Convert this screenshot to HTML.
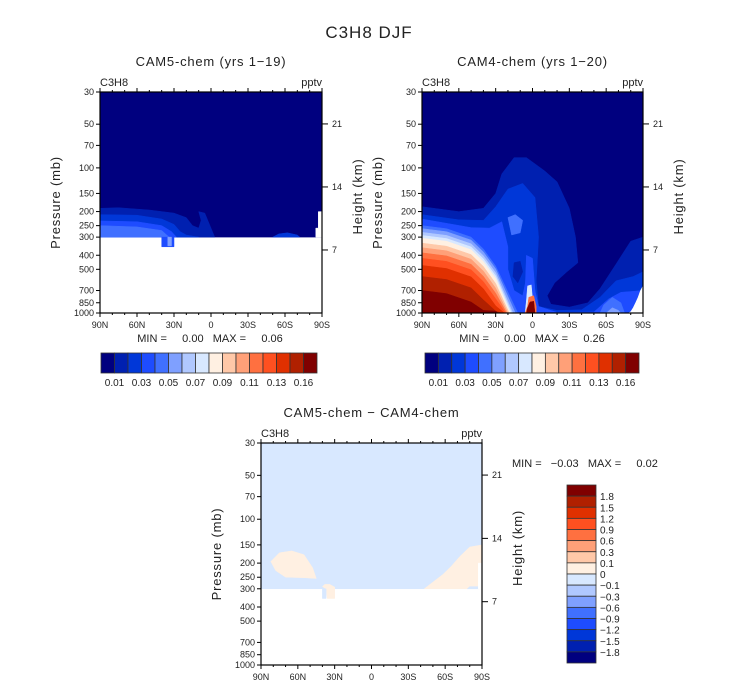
<!DOCTYPE html>
<html><head><meta charset="utf-8">
<style>
html,body{margin:0;padding:0;background:#fff;}
svg text{font-family:"Liberation Sans",sans-serif;fill:#222;white-space:pre;}
</style></head>
<body>
<svg id="chart" width="733" height="689" viewBox="0 0 733 689" xmlns="http://www.w3.org/2000/svg">
<text x="369" y="38" font-size="17" text-anchor="middle" fill="#333" letter-spacing="1">C3H8 DJF</text>
</svg>
<script>
const colors = ["#00007f","#0020b0","#0037d8","#1e4cff","#4070ff","#7fa0ff","#b0c8ff","#d8e8ff","#fff0e2","#ffc8a8","#ffa078","#ff7040","#ff5020","#e03000","#b02000","#800000"];
const cbLabels = ["0.01","0.03","0.05","0.07","0.09","0.11","0.13","0.16"];
const diffLabels = ["1.8","1.5","1.2","0.9","0.6","0.3","0.1","0","\u22120.1","\u22120.3","\u22120.6","\u22120.9","\u22121.2","\u22121.5","\u22121.8"];
const latTicks = [90,60,30,0,-30,-60,-90];
const latLabels = ["90N","60N","30N","0","30S","60S","90S"];
const pTicks = [30,50,70,100,150,200,250,300,400,500,700,850,1000];
const hTicks = [7,14,21];

const cam5Regions = [
 [0, [[90,30],[-90,30],[-90,300],[90,300]]],
 [1, [[90,190],[75,188],[50,195],[30,205],[20,220],[15,250],[10,260],[8,230],[10,200],[5,205],[0,260],[-3,300],[90,300]]],
 [2, [[90,210],[60,212],[40,225],[30,245],[25,275],[20,290],[10,300],[90,300]]],
 [3, [[90,232],[60,235],[40,250],[32,275],[28,300],[90,300]]],
 [4, [[90,250],[60,255],[40,270],[34,300],[90,300]]],
 [2, [[-50,300],[-55,285],[-62,280],[-70,290],[-72,300]]],
 [3, [[40,300],[30,300],[30,350],[40,350]]],
 [5, [[35,300],[32,300],[32,345],[35,345]]]
];
const cam5WhiteNotch = [[-87,200],[-90,200],[-90,300],[-85,300],[-85,260],[-87,260]];

const cam4Regions = [
 [0, [[90,30],[-90,30],[-90,1000],[90,1000]]],
 [1, [[90,185],[60,200],[40,190],[30,150],[25,110],[15,85],[5,85],[-10,105],[-20,125],[-30,190],[-35,300],[-37,450],[-28,520],[-18,620],[-12,760],[-15,870],[-30,910],[-45,850],[-55,680],[-68,460],[-80,320],[-90,300],[-90,1000],[90,1000]]],
 [2, [[90,210],[60,228],[40,230],[30,185],[20,140],[8,128],[-2,160],[-5,300],[-3,600],[-5,900],[-20,960],[-40,950],[-55,780],[-68,600],[-82,560],[-90,520],[-90,1000],[90,1000]]],
 [3, [[90,225],[50,258],[35,260],[25,235],[20,350],[20,500],[15,700],[8,760],[3,480],[-2,700],[-5,900],[-20,990],[-50,985],[-62,800],[-72,720],[-90,700],[-90,1000],[90,1000]]],
 [4, [[20,220],[14,210],[8,230],[10,280],[17,290]]],
 [1, [[15,450],[10,440],[8,520],[12,620],[16,560]]],
 [4, [[-55,1000],[-58,880],[-65,780],[-72,850],[-75,1000]]],
 [5, [[-60,1000],[-65,920],[-70,960],[-72,1000]]]
];
const warmLevels = [[4,250,12],[5,262,14],[6,278,16],[7,292,17],[8,305,18],[9,330,19],[10,355,20],[11,385,21],[12,420,22],[13,470,23],[14,560,25],[15,700,28]];
const cam4Blobs = [[3,[[5,400],[0,420],[-2,700],[-4,1000],[8,1000],[6,700]]],[7,[[4,650],[1,640],[0,800],[-3,1000],[6,1000],[5,820]]],[11,[[3,780],[-1,760],[-3,900],[-3,1000],[6,1000],[4,900]]],[15,[[2,840],[-1,830],[-2,1000],[5,1000],[4,920]]]];
const cam4White = [[-90,650],[-88,700],[-86,780],[-84,850],[-82,920],[-80,980],[-78,1000],[-90,1000]];

const diffRegions = [
 [7, [[90,30],[-90,30],[-90,300],[90,300]]],
 [8, [[82,195],[75,170],[65,165],[55,175],[48,215],[45,255],[55,252],[70,250],[78,225]]],
 [8, [[40,290],[38,280],[34,280],[30,292],[30,350],[36,350],[37,300]]],
 [7, [[40,300],[37,300],[37,350],[40,350]]],
 [8, [[-43,300],[-50,270],[-58,240],[-65,210],[-72,180],[-80,155],[-90,150],[-90,300]]],
 [7, [[-78,300],[-80,290],[-88,290],[-88,300]]]
];
const diffWhite = [[-87,200],[-90,200],[-90,300],[-87,300]];

const svg = document.getElementById('chart');
const NS = "http://www.w3.org/2000/svg";
function mk(tag, attrs, parent){const e=document.createElementNS(NS,tag);for(const k in attrs)e.setAttribute(k,attrs[k]);(parent||svg).appendChild(e);return e;}

function panel(name, x0, y0, w, h, title, regions, extra){
  const g = mk('g',{});
  
  
  const xs = lat => x0 + (90 - lat) / 180 * w;
  const ys = p => y0 + Math.log(p/30) / Math.log(1000/30) * h;
  const poly = (pts, fill, nm) => {
    const e = mk('polygon',{points: pts.map(q=>xs(q[0]).toFixed(1)+','+ys(q[1]).toFixed(1)).join(' '), fill: fill, 'stroke':fill,'stroke-width':0.5}, g);
    
    
  };
  regions.forEach(r=>poly(r[1], colors[r[0]], 'contour-region'));
  if(extra) extra(poly);
  mk('rect',{x:x0,y:y0,width:w,height:h,fill:'none',stroke:'#000','stroke-width':1.2},g);
  for(let lat=90; lat>=-90; lat-=10){
    const major = lat%30===0;
    mk('line',{x1:xs(lat),x2:xs(lat),y1:y0+h,y2:y0+h+(major?4:2),stroke:'#000'},g);
    mk('line',{x1:xs(lat),x2:xs(lat),y1:y0,y2:y0-(major?4:2),stroke:'#000'},g);
  }
  latTicks.forEach((lat,i)=>{
    const t = mk('text',{x:xs(lat),y:y0+h+15,'font-size':9,'text-anchor':'middle'},g);
    t.textContent = latLabels[i];
    
    
  });
  pTicks.forEach(p=>{
    mk('line',{x1:x0-4,x2:x0,y1:ys(p),y2:ys(p),stroke:'#000'},g);
    const t = mk('text',{x:x0-6,y:ys(p)+3,'font-size':9,'text-anchor':'end'},g);
    t.textContent = p;
    
    
  });
  hTicks.forEach(z=>{
    const p = 1000*Math.exp(-z/7);
    mk('line',{x1:x0+w,x2:x0+w+6,y1:ys(p),y2:ys(p),stroke:'#000'},g);
    const t = mk('text',{x:x0+w+10,y:ys(p)+3,'font-size':9},g);
    t.textContent = z;
    
    
  });
  const ylab = mk('text',{x:0,y:0,'font-size':13,'text-anchor':'middle',transform:`translate(${x0-40},${y0+h/2}) rotate(-90)`,fill:'#444','letter-spacing':0.8},g);
  ylab.textContent='Pressure (mb)';
  
  
  const hlab = mk('text',{x:0,y:0,'font-size':13,'text-anchor':'middle',transform:`translate(${x0+w+40},${y0+h/2-6}) rotate(-90)`,fill:'#444','letter-spacing':0.8},g);
  hlab.textContent='Height (km)';
  
  
  const tl = mk('text',{x:x0,y:y0-6,'font-size':11},g); tl.textContent='C3H8';
   
  const tr = mk('text',{x:x0+w,y:y0-6,'font-size':11,'text-anchor':'end'},g); tr.textContent='pptv';
   
  const tt = mk('text',{x:x0+w/2,y:y0-26,'font-size':13,'text-anchor':'middle',fill:'#333','letter-spacing':0.8},g); tt.textContent=title;
   
}

panel('cam5-panel',100,92,222,221,'CAM5-chem (yrs 1\u221219)',cam5Regions,poly=>{poly(cam5WhiteNotch,'#fff','missing-region');});
panel('cam4-panel',422,92,221,221,'CAM4-chem (yrs 1\u221220)',cam4Regions,poly=>{
  warmLevels.forEach(l=>{
    const [c,pk,ek]=l;
    poly([[90,pk],[70,pk*1.05],[50,pk*1.2],[40,Math.min(pk*1.45,960)],[30,Math.min(pk*1.9,970)],[ek,1000],[90,1000]],colors[c],'contour-region');
  });
  cam4Blobs.forEach(b=>poly(b[1],colors[b[0]],'contour-region'));
  poly(cam4White,'#fff','missing-region');
});
panel('diff-panel',261,443,221,222,'CAM5-chem \u2212 CAM4-chem',diffRegions,poly=>{poly(diffWhite,'#fff','missing-region');});

function minmax(x,y,txt,anchor){
  const t = mk('text',{x:x,y:y,'font-size':11,'text-anchor':anchor});
  t.textContent = txt;
  
  
}
minmax(210,342,'MIN =     0.00   MAX =     0.06','middle');
minmax(532,342,'MIN =     0.00   MAX =     0.26','middle');
minmax(512,467,'MIN =   \u22120.03   MAX =     0.02','start');

function hbar(name,x0,y0,w,h){
  const g = mk('g',{});
  
  
  const bw = w/colors.length;
  colors.forEach((c,i)=>{
    const r = mk('rect',{x:x0+i*bw,y:y0,width:bw,height:h,fill:c,stroke:'#333','stroke-width':0.8},g);
    
    
  });
  cbLabels.forEach((l,i)=>{
    const t = mk('text',{x:x0+(2*i+1)*bw,y:y0+h+13,'font-size':10,'text-anchor':'middle'},g);
    t.textContent=l;
    
    
  });
}
hbar('cam5-colorbar',101,353,216,20);
hbar('cam4-colorbar',425,353,214,20);

(function(){
  const g = mk('g',{});
  
  
  const x0=567,y0=485,w=29,h=178,bh=h/colors.length;
  colors.slice().reverse().forEach((c,i)=>{
    const r = mk('rect',{x:x0,y:y0+i*bh,width:w,height:bh,fill:c,stroke:'#333','stroke-width':0.8},g);
    
    
  });
  diffLabels.forEach((l,i)=>{
    const t = mk('text',{x:x0+w+4,y:y0+(i+1)*bh+4,'font-size':10},g);
    t.textContent=l;
    
    
  });
})();
</script>
</body></html>
